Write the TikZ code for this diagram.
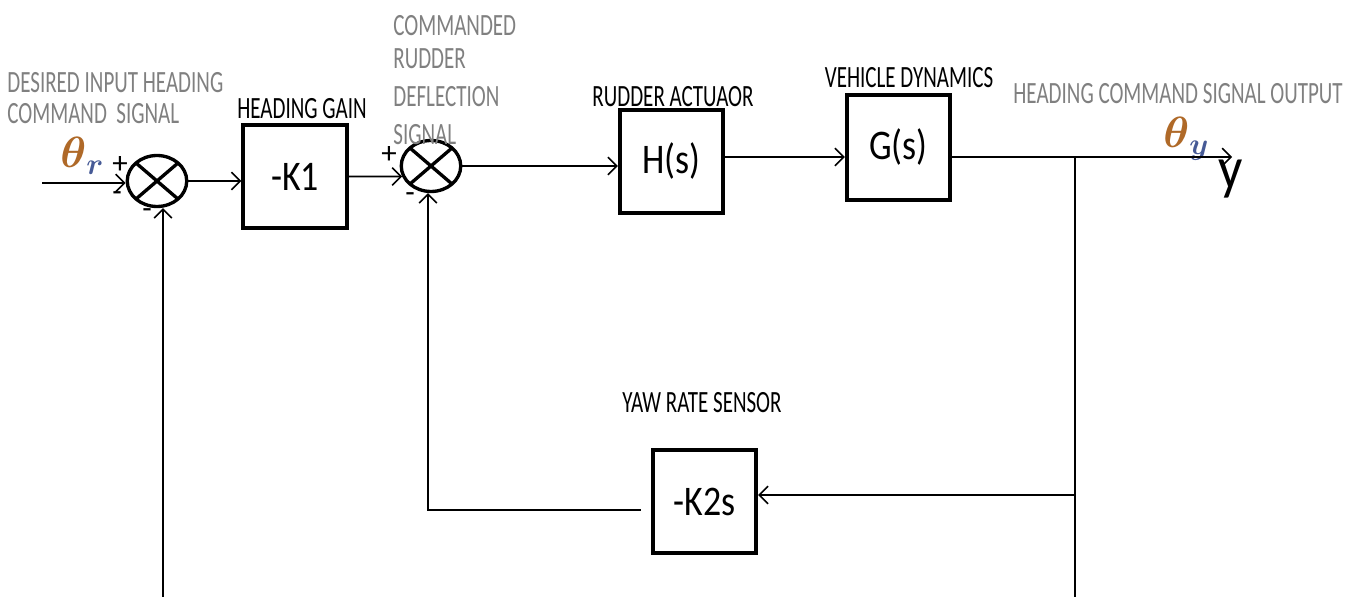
\documentclass[tikz,border=0pt]{standalone}
\usepackage{fontspec}
\setmainfont{Carlito}
\usepackage{amsmath}
\usepackage{graphicx}
\usetikzlibrary{arrows.meta,shapes.geometric}
\definecolor{lblgray}{RGB}{128,128,128}
\definecolor{thetac}{RGB}{175,105,40}
\definecolor{subc}{RGB}{70,90,150}
\newcommand{\narrowtxt}[1]{\scalebox{0.68}[1]{#1}}
\newcommand{\blktxt}[1]{\scalebox{0.85}[1]{#1}}
\begin{document}
\begin{tikzpicture}[x=0.02cm,y=-0.02cm,
  lbl/.style={font=\fontsize{17.6}{20}\selectfont, inner sep=0},
  glbl/.style={lbl, text=lblgray},
  blk/.style={draw, line width=2.2pt, minimum width=2.07cm, minimum height=2.07cm, inner sep=0, font=\fontsize{24}{26}\selectfont},
  sumj/.style={ellipse, draw, line width=1.9pt, minimum width=1.19cm, minimum height=1.02cm, inner sep=0,
    path picture={\draw[line width=1.9pt] (path picture bounding box.north west) -- (path picture bounding box.south east)
      (path picture bounding box.south west) -- (path picture bounding box.north east);}},
  arr/.style={-{Straight Barb[length=5pt,width=10pt]}, line width=0.9pt},
  ln/.style={line width=0.9pt}]
\fill[white] (0,0) rectangle (1355,597);
\useasboundingbox (0,0) rectangle (1355,597);

% blocks
\node[sumj] (s1) at (157,181) {};
\node[sumj] (s2) at (431,166) {};
\node[blk] (k1) at (295,176.5) {\blktxt{-K1}};
\node[blk] (h) at (671.5,161.5) {\blktxt{H(s)}};
\node[blk, minimum height=2.1cm] (g) at (898.5,147.5) {\blktxt{G(s)}};
\node[blk] (k2) at (704.5,501.5) {\blktxt{-K2s}};

% labels
\node[glbl, anchor=west] (t1) at (7,83) {\narrowtxt{DESIRED INPUT HEADING}};
\node[glbl, anchor=west] (t2) at (7,114) {\narrowtxt{COMMAND\ \ SIGNAL}};
\node[lbl] (t3) at (302,109) {\narrowtxt{HEADING GAIN}};
\node[glbl, anchor=west] (t4) at (393,26) {\narrowtxt{COMMANDED}};
\node[glbl, anchor=west] (t5) at (393,59) {\narrowtxt{RUDDER}};
\node[glbl, anchor=west] (t6) at (393,97) {\narrowtxt{DEFLECTION}};
\node[glbl, anchor=west] (t7) at (393,135) {\narrowtxt{SIGNAL}};
\node[lbl] (t8) at (673,97) {\narrowtxt{RUDDER ACTUAOR}};
\node[lbl] (t9) at (909,78) {\narrowtxt{VEHICLE DYNAMICS}};
\node[glbl] (t10) at (1178,94) {\narrowtxt{HEADING COMMAND SIGNAL OUTPUT}};
\node[lbl] (t11) at (702,403) {\narrowtxt{YAW RATE SENSOR}};

\node[inner sep=0, anchor=base west] (th1) at (60,168) {\fontsize{24}{26}\selectfont$\textcolor{thetac}{\boldsymbol\theta}_{\textcolor{subc}{\boldsymbol r}}$};
\node[inner sep=0, anchor=base west] (th2) at (1163,148) {\fontsize{24}{26}\selectfont$\textcolor{thetac}{\boldsymbol\theta}_{\textcolor{subc}{\boldsymbol y}}$};
\node[inner sep=0, anchor=base west] (yout) at (1218,189) {\scalebox{0.9}[1]{\fontsize{34}{36}\selectfont y}};

\node[lbl] (p1) at (120,165) {+};
\node[lbl] (m1) at (117,197) {-};
\node[lbl] (m2) at (147,214) {-};
\node[lbl] (p2) at (389,155) {+};
\node[lbl] (m3) at (410,198) {-};

% connectors
\coordinate (in1) at (42,183);
\coordinate (b1) at (163,597);
\coordinate (br) at (1075,157);
\coordinate (out) at (1232,157);
\coordinate (b2) at (1075,597);
\coordinate (k2in) at (1075,495);
\coordinate (fb) at (428,510);

\draw[arr] (in1) -- (s1.west |- in1);
\draw[arr] (s1.east) -- (k1.west |- s1.east);
\draw[arr] (k1.east) -- (s2.200);
\draw[arr] (s2.east) -- (h.west |- s2.east);
\draw[arr] (h.east |- br) -- (g.west |- br);
\draw[arr] (g.east |- br) -- (out);
\draw[ln] (br) -- (b2);
\draw[arr] (k2in) -- (k2.east |- k2in);
\draw[arr, shorten <=0.2cm] (k2.west |- fb) -- (fb) -- (s2.south -| fb);
\draw[arr] (b1) -- (s1.south -| b1);
\end{tikzpicture}
\end{document}
